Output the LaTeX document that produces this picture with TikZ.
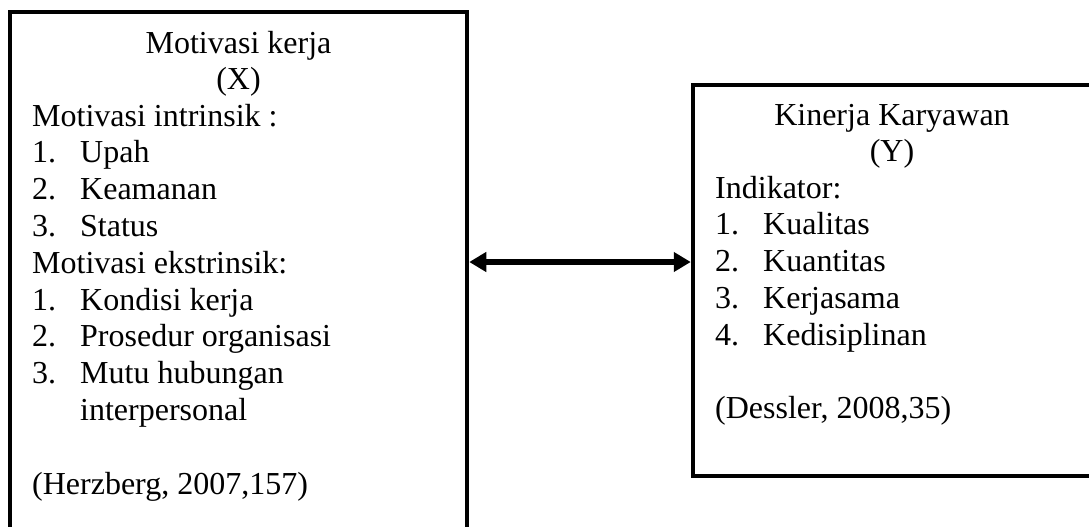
\documentclass[tikz,border=0pt]{standalone}
\usepackage{fontspec}
\setmainfont{Liberation Serif}
\usetikzlibrary{arrows.meta}

\begin{document}
\begin{tikzpicture}[x=1pt, y=-1pt, >={Triangle[length=17pt, width=19pt]}, box/.style = {draw, rectangle, line width=4.5pt, inner sep=0pt}, txt/.style = {inner sep=0pt, font=\fontsize{32}{36.8}\selectfont}]
        \useasboundingbox (0,0) rectangle (1089,527);
        \node[box, minimum width=457pt, minimum height=533pt] (motivasi) at (238.5,278.5) {};
        \node[box, minimum width=398pt, minimum height=391pt] (kinerja) at (892,280.5) {};

        \node[txt, anchor=base] (judulx) at (motivasi.center |- 0,53) {\begin{tabular}[t]{@{}c@{}}Motivasi kerja\\(X)\end{tabular}};
        \node[txt, anchor=base west] (isix) at (32,126) {\begin{tabular}[t]{@{}p{48pt}@{}l@{}}
            \multicolumn{2}{@{}l@{}}{Motivasi intrinsik :}\\
            1. & Upah\\
            2. & Keamanan\\
            3. & Status\\
            \multicolumn{2}{@{}l@{}}{Motivasi ekstrinsik:}\\
            1. & Kondisi kerja\\
            2. & Prosedur organisasi\\
            3. & Mutu hubungan\\
               & interpersonal\\
               & \\
            \multicolumn{2}{@{}l@{}}{(Herzberg, 2007,157)}
        \end{tabular}};

        \node[txt, anchor=base] (juduly) at (kinerja.center |- 0,125) {\begin{tabular}[t]{@{}c@{}}Kinerja Karyawan\\(Y)\end{tabular}};
        \node[txt, anchor=base west] (isiy) at (715,198) {\begin{tabular}[t]{@{}p{48pt}@{}l@{}}
            \multicolumn{2}{@{}l@{}}{Indikator:}\\
            1. & Kualitas\\
            2. & Kuantitas\\
            3. & Kerjasama\\
            4. & Kedisiplinan\\
               & \\
            \multicolumn{2}{@{}l@{}}{(Dessler, 2008,35)}
        \end{tabular}};

        \coordinate (panah) at (580,262);
        \draw[<->, line width=5.5pt] (motivasi.east |- panah) -- (kinerja.west |- panah);
    \end{tikzpicture}
\end{document}
